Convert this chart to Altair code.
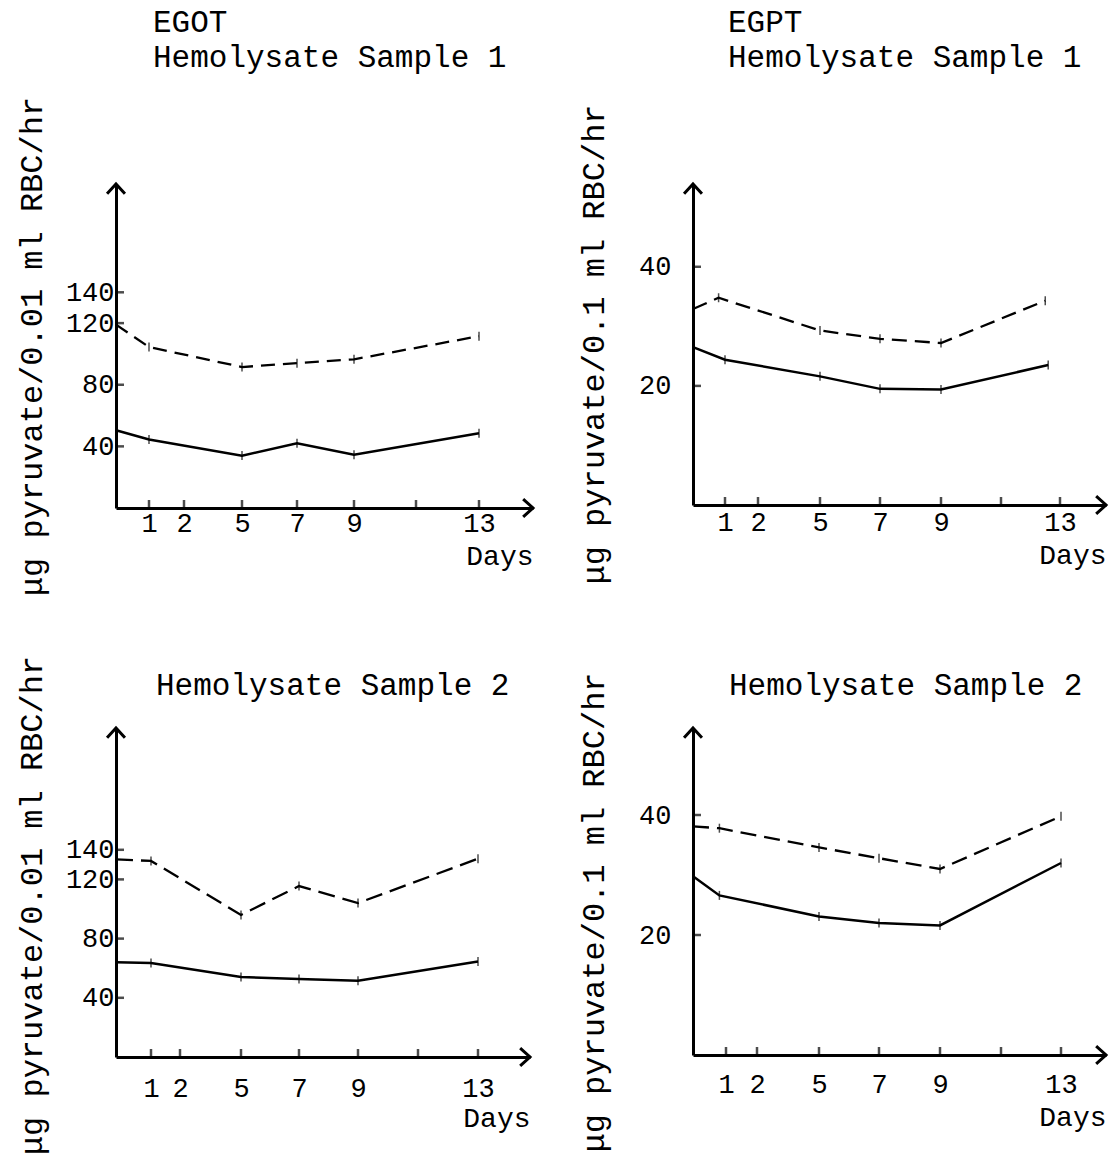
import altair as alt
import pandas as pd

FONT = "Liberation Mono"

# ---- axis layout (hand-drawn, non-uniform day axis) ----
DAY_TICKS = [1, 2, 5, 7, 9, 11, 13]
DAY_LABELS = [1, 2, 5, 7, 9, 13]
X_DOMAIN = [0, 1, 2, 5, 7, 9, 11, 13, 14.6]

# ---- EGOT, Hemolysate Sample 1 ----
egot1_dash_days = [0, 1, 5, 7, 9, 13]
egot1_dash_vals = [119, 104.5, 91.5, 94, 96.5, 111.5]
egot1_solid_days = [0, 1, 5, 7, 9, 13]
egot1_solid_vals = [50.5, 44.5, 34, 42, 34.5, 48.5]
egot_yticks = [40, 80, 120, 140]

# ---- EGPT, Hemolysate Sample 1 ----
egpt1_dash_days = [0, 0.8, 5, 7, 9, 12.5]
egpt1_dash_vals = [32.9, 34.8, 29.3, 27.9, 27.2, 34.3]
egpt1_solid_days = [0, 1, 5, 7, 9, 12.6]
egpt1_solid_vals = [26.5, 24.4, 21.6, 19.5, 19.4, 23.5]
egpt_yticks = [20, 40]

# ---- EGOT, Hemolysate Sample 2 ----
egot2_dash_days = [0, 1, 5, 7, 9, 13]
egot2_dash_vals = [133.5, 132.5, 96, 115.5, 104, 134]
egot2_solid_days = [0, 1, 5, 7, 9, 13]
egot2_solid_vals = [64, 63.5, 54, 52.7, 51.5, 64.6]

# ---- EGPT, Hemolysate Sample 2 ----
egpt2_dash_days = [0, 0.8, 5, 7, 9, 13]
egpt2_dash_vals = [38.1, 37.8, 34.6, 32.8, 31.0, 39.8]
egpt2_solid_days = [0, 0.8, 5, 7, 9, 13]
egpt2_solid_vals = [29.8, 26.6, 23.1, 22.0, 21.6, 32.0]

YT_001 = "\u03bcg pyruvate/0.01 ml RBC/hr"
YT_01 = "\u03bcg pyruvate/0.1 ml RBC/hr"

UP = "M-1,1.1L0,0L1,1.1"
RIGHT = "M-1.1,-1L0,0L-1.1,1"


def panel(title, title_dx, title_off, ytitle, ytitle_x, ytitle_y,
          dd, dv, sd, sv, yticks, ymax, xrange, W, H,
          ylab_pad, xlab_pad, days_y, dash):
    xs = alt.Scale(domain=X_DOMAIN, range=xrange, nice=False, zero=False)
    ys = alt.Scale(domain=[0, ymax], nice=False, zero=False)
    xaxis = alt.Axis(values=DAY_LABELS, format="d", domain=True, domainColor="black",
                     domainWidth=3, ticks=False, grid=False, labelFont=FONT,
                     labelFontSize=27, labelColor="black", labelPadding=xlab_pad,
                     labelFlush=False, labelOverlap=False, title="Days",
                     titleFont=FONT, titleFontSize=28, titleFontWeight="normal",
                     titleColor="black", titleAlign="right", titleX=W, titleY=days_y,
                     titleBaseline="top")
    yaxis = alt.Axis(values=yticks, format="d", domain=True, domainColor="black",
                     domainWidth=3, ticks=False, grid=False, labelFont=FONT,
                     labelFontSize=27, labelColor="black", labelPadding=ylab_pad,
                     labelOverlap=False, title=ytitle, titleFont=FONT, titleFontSize=32,
                     titleFontWeight="normal", titleColor="black", titleAngle=270,
                     titleAlign="center", titleBaseline="middle",
                     titleX=ytitle_x, titleY=ytitle_y)

    def enc(ch):
        return ch.encode(x=alt.X("day:Q", scale=xs, axis=xaxis),
                         y=alt.Y("value:Q", scale=ys, axis=yaxis))

    dash_df = pd.DataFrame({"day": dd, "value": dv})
    solid_df = pd.DataFrame({"day": sd, "value": sv})
    ytick_df = pd.DataFrame({"day": [0] * len(yticks), "value": yticks})
    xtick_df = pd.DataFrame({"day": DAY_TICKS, "value": [0] * len(DAY_TICKS)})
    up_df = pd.DataFrame({"day": [X_DOMAIN[0]], "value": [ymax]})
    right_df = pd.DataFrame({"day": [X_DOMAIN[-1]], "value": [0]})

    layers = [
        enc(alt.Chart(solid_df).mark_line(color="black", strokeWidth=2.5)),
        enc(alt.Chart(dash_df).mark_line(color="black", strokeWidth=2.3,
                                         strokeDash=dash)),
        enc(alt.Chart(solid_df).mark_tick(orient="vertical", color="black",
                                          size=9, thickness=1.5)),
        enc(alt.Chart(dash_df).mark_tick(orient="vertical", color="black",
                                         size=9, thickness=1.5)),
        enc(alt.Chart(ytick_df).mark_tick(orient="horizontal", color="black",
                                          size=8, thickness=2.5, xOffset=4)),
        enc(alt.Chart(xtick_df).mark_tick(orient="vertical", color="black",
                                          size=8, thickness=2.5, yOffset=-4)),
        enc(alt.Chart(up_df).mark_point(shape=UP, size=320, filled=False,
                                        color="black", strokeWidth=3, opacity=1)),
        enc(alt.Chart(right_df).mark_point(shape=RIGHT, size=320, filled=False,
                                           color="black", strokeWidth=3, opacity=1)),
    ]
    return alt.layer(*layers).properties(
        width=W, height=H,
        title=alt.TitleParams(text=title, anchor="start", frame="group", dx=title_dx,
                              offset=title_off, font=FONT, fontSize=31,
                              fontWeight="normal", color="black", lineHeight=35),
    )


p1 = panel(["EGOT", "Hemolysate Sample 1"], 37, 22, YT_001, -85, 162,
           egot1_dash_days, egot1_dash_vals, egot1_solid_days, egot1_solid_vals,
           egot_yticks, 210.3, [0, 33, 68, 126, 181, 238, 300, 363, 417], 417, 324,
           2, 2, 34, [14, 8])
p2 = panel(["EGPT", "Hemolysate Sample 1"], 35, 30, YT_01, -100, 160,
           egpt1_dash_days, egpt1_dash_vals, egpt1_solid_days, egpt1_solid_vals,
           egpt_yticks, 53.9, [0, 32, 65, 127, 187, 248, 308, 367, 413], 413, 321,
           22, 4, 36, [15, 8])
p3 = panel(["Hemolysate Sample 2"], 40, -47, YT_001, -85, 177,
           egot2_dash_days, egot2_dash_vals, egot2_solid_days, egot2_solid_vals,
           egot_yticks, 222.3, [0, 35, 64, 125, 183, 242, 302, 362, 414], 414, 329,
           2, 18, 47, [17, 8])
p4 = panel(["Hemolysate Sample 2"], 36, -30, YT_01, -100, 184,
           egpt2_dash_days, egpt2_dash_vals, egpt2_solid_days, egpt2_solid_vals,
           egpt_yticks, 54.5, [0, 33, 64, 126, 186, 247, 308, 368, 413], 413, 327,
           22, 16, 48, [16, 8])

chart = alt.concat(p1, p2, p3, p4, columns=2, spacing={"row": 220, "column": 160},
                   bounds="flush").properties(
    padding={"left": 14, "top": 6, "right": 0, "bottom": 0},
    background="white",
).configure_view(strokeWidth=0)

chart.save("out.html", embed_options={"renderer": "svg", "actions": False})
